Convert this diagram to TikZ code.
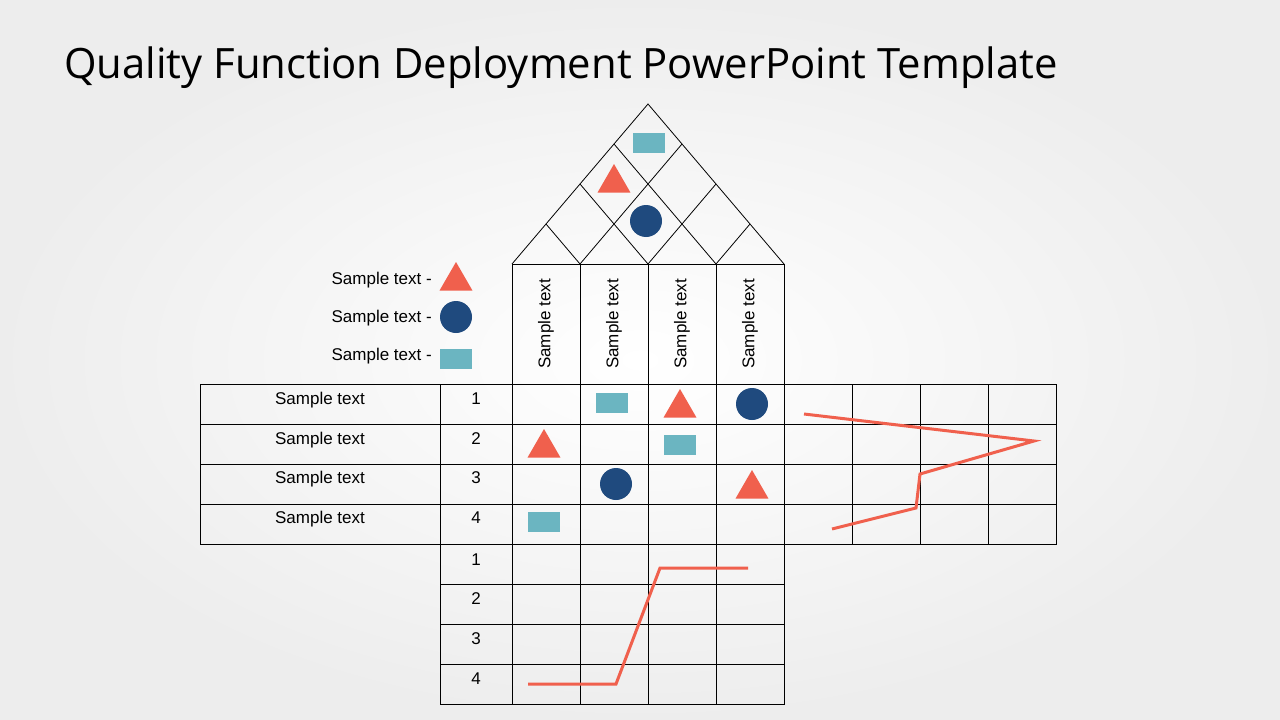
\documentclass[tikz,border=0pt]{standalone}
\usepackage{fontspec}
\setmainfont{Liberation Sans}
\newfontfamily\titlefont{Open Sans}
\begin{document}
\begin{tikzpicture}[x=1pt,y=-1pt,
  grid/.style={draw=black,line width=0.8pt},
  tri/.style={fill=tri,draw=none,regular polygon,regular polygon sides=3,minimum size=38pt,inner sep=0pt},
  dot/.style={fill=navy,draw=none,circle,minimum size=32pt,inner sep=0pt},
  sq/.style={fill=teal2,draw=none,minimum width=32pt,minimum height=20pt,inner sep=0pt},
  lbl/.style={font=\fontsize{17pt}{19pt}\selectfont,inner sep=0pt},
  trend/.style={draw=tri,line width=3pt}]
\usetikzlibrary{shapes.geometric}
\definecolor{tri}{HTML}{F0604D}
\definecolor{navy}{HTML}{1F4A7E}
\definecolor{teal2}{HTML}{6BB5C1}
\path[inner color=white,outer color=gray!14] (0,0) rectangle (1280,720);
\useasboundingbox (0,0) rectangle (1280,720);
\node[anchor=west,inner sep=0pt,font=\titlefont\fontsize{41.8pt}{46pt}\selectfont] (title) at (64,68) {Quality Function Deployment PowerPoint Template};
% main grid
\draw[grid] (200,384) rectangle (1056,544);
\foreach \y in {424,464,504} \draw[grid] (200,\y) -- (1056,\y);
\foreach \x in {440,512,580,648,716,784,852,920,988} \draw[grid] (\x,384) -- (\x,544);
% header
\draw[grid] (512,264) rectangle (784,384);
\foreach \x in {580,648,716} \draw[grid] (\x,264) -- (\x,384);
% bottom
\draw[grid] (440,544) rectangle (784,704);
\foreach \y in {584,624,664} \draw[grid] (440,\y) -- (784,\y);
\foreach \x in {512,580,648,716} \draw[grid] (\x,544) -- (\x,704);
% roof
\draw[grid] (512,264) -- (648,104) -- (784,264);
\draw[grid] (580,264) -- (682,144);
\draw[grid] (648,264) -- (716,184);
\draw[grid] (716,264) -- (750,224);
\draw[grid] (716,264) -- (614,144);
\draw[grid] (648,264) -- (580,184);
\draw[grid] (580,264) -- (546,224);
% header texts
\foreach \x/\n in {546/a,614/b,682/c,750/d}
  \node[lbl,rotate=90] (h\n) at (\x,324) {Sample text};
% row labels
\foreach \y/\n in {400/1,440/2,479/3,519/4}{
  \node[lbl] (r\n) at (320,\y) {Sample text};
  \node[lbl] (n\n) at (476,\y-1) {\n};}
\foreach \y/\n in {560/1,599/2,639/3,679/4}
  \node[lbl] (b\n) at (476,\y) {\n};
% legend
\node[lbl,anchor=east] (l1) at (432,280) {Sample text -};
\node[lbl,anchor=east] (l2) at (432,318) {Sample text -};
\node[lbl,anchor=east] (l3) at (432,356) {Sample text -};
\node[tri] (lt) at (456,281) {};
\node[dot] (lc) at (456,317) {};
\node[sq] (ls) at (456,359) {};
% roof symbols
\node[sq] (rs) at (649,143) {};
\node[tri] (rt) at (614,183) {};
\node[dot] (rc) at (646,221) {};
% grid symbols
\node[sq] (g1) at (612,403) {};
\node[tri] (g2) at (680,408) {};
\node[dot] (g3) at (752,404) {};
\node[tri] (g4) at (544,448) {};
\node[sq] (g5) at (680,445) {};
\node[dot] (g6) at (616,484) {};
\node[tri] (g7) at (752,489) {};
\node[sq] (g8) at (544,522) {};
% trend lines
\coordinate (p1) at (804,414); \coordinate (p2) at (1034,441);
\coordinate (p3) at (920,474); \coordinate (p4) at (916,508);
\coordinate (p5) at (832,529);
\draw[trend] (p1) -- (p2) -- (p3) -- (p4) -- (p5);
\coordinate (q1) at (528,684); \coordinate (q2) at (616,684);
\coordinate (q3) at (660,568); \coordinate (q4) at (748,568);
\draw[trend] (q1) -- (q2) -- (q3) -- (q4);
\end{tikzpicture}
\end{document}
